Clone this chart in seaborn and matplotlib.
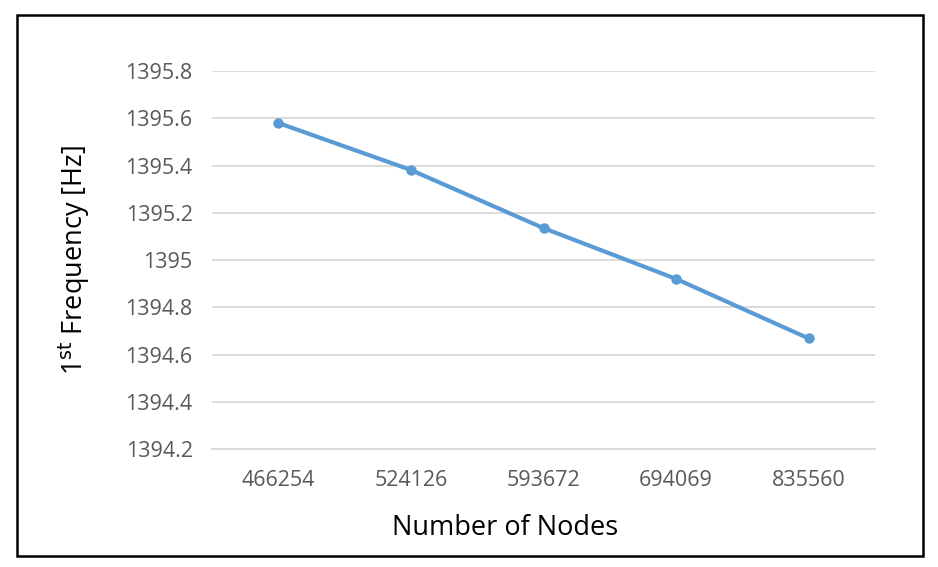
import matplotlib
matplotlib.use("Agg")
import matplotlib.pyplot as plt
import seaborn as sns
import pandas as pd
from matplotlib.patches import Rectangle

nodes = ["466254", "524126", "593672", "694069", "835560"]
freq = [1395.58, 1395.381, 1395.135, 1394.92, 1394.668]
yticks = [1394.2, 1394.4, 1394.6, 1394.8, 1395.0, 1395.2, 1395.4, 1395.6, 1395.8]
ytick_labels = ["1394.2", "1394.4", "1394.6", "1394.8", "1395", "1395.2", "1395.4", "1395.6", "1395.8"]

df = pd.DataFrame({"Nodes": nodes, "Freq": freq})

sns.set_theme(style="white")
plt.rcParams['font.family'] = ['Open Sans', 'DejaVu Sans']

fig = plt.figure(figsize=(9.38, 5.67), dpi=100)
ax = fig.add_axes([212/938, 1-449/567, (875-212)/938, (449-71)/567])

sns.lineplot(data=df, x="Nodes", y="Freq", ax=ax, color="#5b9bd5", linewidth=3.0,
             marker="o", markersize=7.5, markeredgewidth=0, sort=False)

ax.set_xlim(-0.5, 4.5)
ax.set_ylim(1394.2, 1395.8)
ax.set_yticks(yticks)
ax.set_yticklabels(ytick_labels)
ax.yaxis.grid(True, color="#d9d9d9", linewidth=1.3)
ax.set_axisbelow(True)
for s in ["top", "right", "left"]:
    ax.spines[s].set_visible(False)
ax.spines["bottom"].set_color("#d9d9d9")
ax.spines["bottom"].set_linewidth(1.3)
ax.tick_params(axis="both", length=0, labelsize=15.5, colors="#595959")
ax.tick_params(axis="y", pad=14)
ax.tick_params(axis="x", pad=15)
ax.set_xlabel("Number of Nodes", fontsize=19.5, color="black", labelpad=17)
ax.xaxis.label.set_x((505 - 212) / (875 - 212))
ax.set_ylabel(r"1$^{\mathrm{st}}$ Frequency [Hz]", fontsize=19.5, color="black", labelpad=23)

fig.patches.append(Rectangle((17/938, 1-556/567), (923-17)/938, (556-15)/567,
                             transform=fig.transFigure, fill=False, edgecolor="black",
                             linewidth=1.8))

fig.savefig("out.png", dpi=100)
